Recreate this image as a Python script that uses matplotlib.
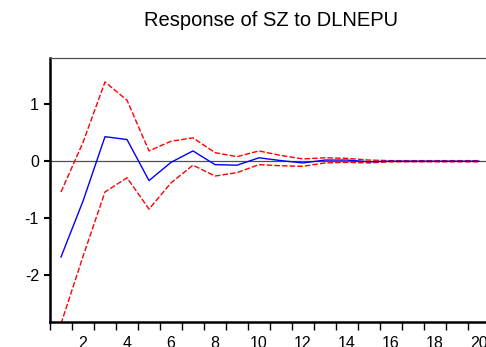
import matplotlib
matplotlib.use('Agg')
import matplotlib.pyplot as plt
import numpy as np

plt.rcParams['font.family'] = ['Liberation Sans', 'DejaVu Sans']

periods = np.arange(1, 21)
response = [-1.68, -0.70, 0.43, 0.38, -0.34, -0.02, 0.18, -0.06, -0.07, 0.06,
            0.01, -0.03, 0.02, 0.02, -0.01, 0.0, 0.0, 0.0, 0.0, 0.0]
upper = [-0.54, 0.33, 1.39, 1.07, 0.18, 0.35, 0.41, 0.15, 0.08, 0.18,
         0.10, 0.04, 0.06, 0.05, 0.02, 0.01, 0.01, 0.01, 0.01, 0.01]
lower = [-2.85, -1.67, -0.54, -0.29, -0.84, -0.38, -0.07, -0.26, -0.20, -0.06,
         -0.08, -0.09, -0.03, -0.02, -0.03, -0.01, -0.01, -0.01, -0.01, -0.01]

fig = plt.figure(figsize=(4.86, 3.47), dpi=100)
ax = fig.add_axes([50/486, 25/347, 440/486, 264/347])

ax.axhline(0, color='#505050', lw=0.9, zorder=1)
ax.plot(periods, response, color='#0000ff', lw=1.0, zorder=3)
ax.plot(periods, upper, color='#ff0000', lw=1.0, ls=(0, (4, 1.5)), zorder=2)
ax.plot(periods, lower, color='#ff0000', lw=1.0, ls=(0, (4, 1.5)), zorder=2)

ax.set_xlim(0.5, 20.5)
ax.set_ylim(-2.82, 1.81)

ax.set_xticks(np.arange(0.5, 21, 1))
ax.set_xticklabels([])
ax.set_xticks(np.arange(2, 21, 2), minor=True)
ax.set_xticklabels([str(v) for v in range(2, 21, 2)], minor=True)
ax.tick_params(axis='x', which='major', direction='out', length=6, width=1.0)
ax.tick_params(axis='x', which='minor', length=0, labelsize=11.5, pad=10)

ax.set_yticks([-2, -1, 0, 1])
ax.set_yticklabels(['-2', '-1', '0', '1'])
ax.tick_params(axis='y', direction='out', length=4, width=1.5, labelsize=11.5, pad=4)

ax.spines['left'].set_linewidth(1.8)
ax.spines['bottom'].set_linewidth(1.8)
ax.spines['top'].set_linewidth(0.9)
ax.spines['top'].set_color('#505050')
ax.spines['right'].set_visible(False)

fig.text(271/486, 1 - 21/347, 'Response of SZ to DLNEPU', ha='center', va='center', fontsize=14.5)

fig.savefig('out.png', dpi=100)
